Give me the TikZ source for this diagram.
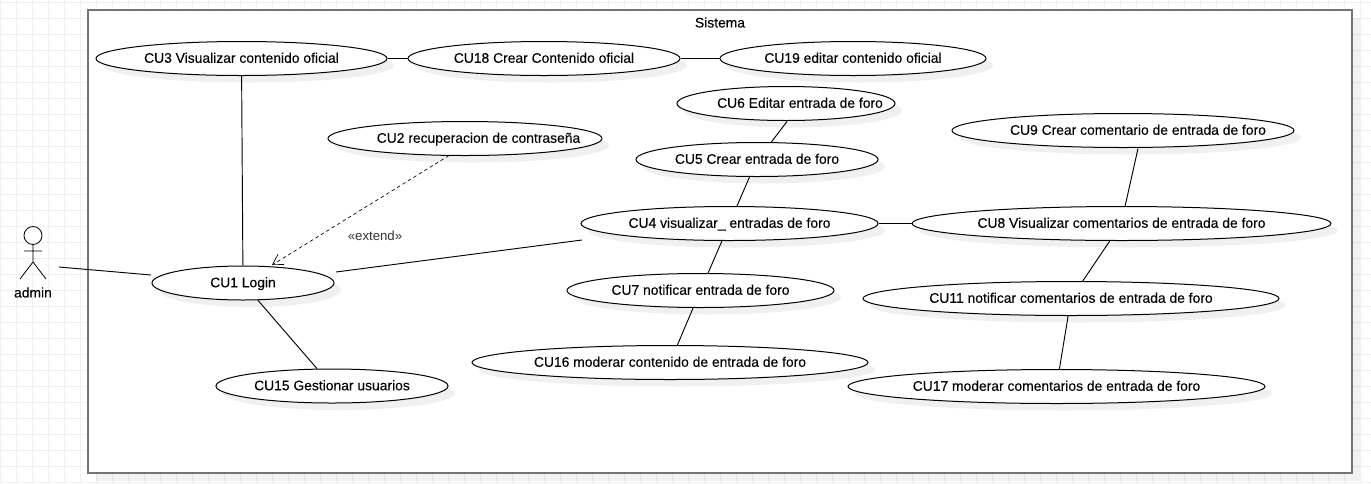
\documentclass[tikz,border=0pt]{standalone}
\usepackage{fontspec}
\setmainfont{Liberation Sans}[FakeBold=0.12]
\newfontfamily\plainfont{Liberation Sans}
\usetikzlibrary{shapes.geometric,shadows,arrows.meta}
\definecolor{gridc}{HTML}{F0F0F0}
\definecolor{sysc}{HTML}{757575}
\newcommand{\uct}[2][0pt]{\rule[-3pt]{0pt}{12.4pt}\makebox[0pt]{\hspace*{#1}#2}}
\tikzset{
  uc/.style={ellipse,draw=black,fill=white,line width=0.75pt,inner sep=0pt,
    minimum width=#1*0.75pt,minimum height=25.5pt,
    font=\fontsize{10.4pt}{12pt}\selectfont,
    drop shadow={shadow xshift=5.25pt,shadow yshift=-5.25pt,fill=black,opacity=0.06}},
  assoc/.style={draw=black,line width=0.7pt},
  extendline/.style={draw=black,line width=0.5pt,dash pattern=on 2.6pt off 2.2pt,
    -{Straight Barb[length=7.5pt,width=9pt,line width=0.5pt]}},
  sys/.style={rectangle,draw=sysc,fill=white,line width=1.05pt,inner sep=0pt,
    minimum width=948pt,minimum height=347.25pt,
    drop shadow={shadow xshift=6pt,shadow yshift=-6pt,fill=black,opacity=0.05}},
  lbl/.style={inner sep=0pt,font=\fontsize{10.4pt}{12pt}\selectfont},
  actorline/.style={draw=black,line width=0.6pt}
}
\begin{document}
\begin{tikzpicture}[x=0.75pt,y=-0.75pt]
\useasboundingbox (0,0) rectangle (1371,483);
\fill[white] (0,0) rectangle (1371,483);
\foreach \gx in {0,...,85} \draw[gridc,line width=0.75pt] (\gx*16+0.5,0) -- (\gx*16+0.5,483);
\foreach \gy in {0,...,30} \draw[gridc,line width=0.75pt] (0,\gy*16+2) -- (1371,\gy*16+2);

\node[sys] (system) at (720,241.5) {};
\node[lbl] (systitle) at (720,22.5) {Sistema};

% actor
\node[circle,draw=black,line width=0.6pt,minimum size=13.5pt,inner sep=0pt,fill=white] (head) at (33,235.5) {};
\coordinate (hip) at (33,262);
\coordinate (armL) at (24,251);
\coordinate (armR) at (42,251);
\coordinate (legL) at (20,279);
\coordinate (legR) at (46,279);
\draw[actorline] (head) -- (hip) (armL) -- (armR) (legL) -- (hip) -- (legR);
\node[lbl] (admin) at (33,292.5) {admin};

% use cases
\node[uc=182] (CU1) at (243,283) {\uct{CU1 Login}};
\node[uc=232] (CU15) at (332,386) {\uct{CU15 Gestionar usuarios}};
\node[uc=291] (CU3) at (241.5,58.5) {\uct{CU3 Visualizar contenido oficial}};
\node[uc=272] (CU18) at (544,58.5) {\uct{CU18 Crear Contenido oficial}};
\node[uc=266] (CU19) at (853,58.5) {\uct{CU19 editar contenido oficial}};
\node[uc=218] (CU6) at (786,103.5) {\uct[21pt]{CU6 Editar entrada de foro}};
\node[uc=242] (CU5) at (757,159.5) {\uct{CU5 Crear entrada de foro}};
\node[uc=274] (CU2) at (465,138.5) {\uct[20.25pt]{CU2 recuperacion de contraseña}};
\node[uc=297] (CU4) at (729.5,223.5) {\uct{CU4 visualizar\_ entradas de foro}};
\node[uc=267] (CU7) at (700.5,290.5) {\uct{CU7 notificar entrada de foro}};
\node[uc=396] (CU16) at (670,362.5) {\uct{CU16 moderar contenido de entrada de foro}};
\node[uc=342] (CU9) at (1123,130.5) {\uct[22.5pt]{CU9 Crear comentario de entrada de foro}};
\node[uc=419] (CU8) at (1121.5,223.5) {\uct{CU8 Visualizar comentarios de entrada de foro}};
\node[uc=416] (CU11) at (1071,298.5) {\uct{CU11 notificar comentarios de entrada de foro}};
\node[uc=417] (CU17) at (1056.5,386.5) {\uct{CU17 moderar comentarios de entrada de foro}};

% connectors
\draw[assoc] ([shift={(26,31.5)}]head.center) -- ([shift={(-92,-8)}]CU1.center);
\draw[assoc] (CU3) -- (CU1);
\draw[assoc] (CU1) -- (CU15);
\draw[assoc] (CU3) -- (CU18);
\draw[assoc] (CU18) -- (CU19);
\draw[assoc] ([shift={(1,18)}]CU6.center) -- ([shift={(14,-17)}]CU5.center);
\draw[assoc] (CU5) -- (CU4);
\draw[assoc] (CU4) -- (CU7);
\draw[assoc] (CU7) -- (CU16);
\draw[assoc] (CU4) -- (CU8);
\draw[assoc] ([shift={(15,18)}]CU9.center) -- ([shift={(3.5,-17)}]CU8.center);
\draw[assoc] (CU8) -- (CU11);
\draw[assoc] (CU11) -- (CU17);
\draw[assoc] ([shift={(-147.5,16.5)}]CU4.center) -- ([shift={(93,-11)}]CU1.center);
\draw[extendline] ([shift={(-16,17)}]CU2.center) -- ([shift={(29,-18)}]CU1.center);
\node[lbl,text=black!80,font=\plainfont\fontsize{9.9pt}{11pt}\selectfont] (ext) at (375,236) {«extend»};
\end{tikzpicture}
\end{document}
